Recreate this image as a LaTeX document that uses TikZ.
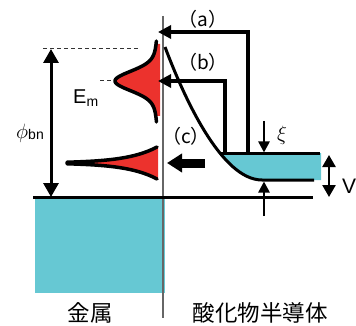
\documentclass[tikz,border=0pt]{standalone}
\usepackage{fontspec}
\setmainfont{Liberation Sans}
\newfontfamily\cjk{Noto Sans CJK JP}
\usetikzlibrary{arrows.meta}
\definecolor{bandcyan}{RGB}{102,200,211}
\definecolor{dosred}{RGB}{236,50,45}
\begin{document}
\begin{tikzpicture}[x=1pt,y=-1pt,
  bold/.style={line width=3pt},
  curveline/.style={line width=3.5pt, line join=round, line cap=round},
  injarrow/.style={line width=4pt, line join=miter, -{Triangle[length=13pt,width=13pt]}},
  thinarrow/.style={line width=2.5pt, -{Triangle[length=11pt,width=11pt]}},
  dblarrow/.style={line width=2.5pt, {Triangle[length=12pt,width=13pt]}-{Triangle[length=12pt,width=13pt]}},
  phiarrow/.style={line width=3pt, {Triangle[length=14pt,width=15pt]}-{Triangle[length=14pt,width=15pt]}},
  guide/.style={line width=1pt, dash pattern=on 4pt off 3pt, black!80},
  lbl/.style={inner sep=0pt, font=\fontsize{20}{20}\selectfont},
  jlbl/.style={inner sep=0pt, font=\cjk\fontsize{22.5}{22.5}\selectfont}]
\useasboundingbox (0,0) rectangle (356,326);

% named points
\coordinate (bandtop) at (165,47);
\coordinate (bandbot) at (262,180);
\coordinate (bandend) at (314,180);
\coordinate (cbtopL) at (221,154);
\coordinate (cbtopR) at (320,154);
\coordinate (efL) at (33,197);
\coordinate (efR) at (313,197);
\coordinate (ifTop) at (163,16);
\coordinate (ifBot) at (163,318);
\coordinate (aStart) at (248,154);
\coordinate (aCorner) at (248,32);
\coordinate (aEnd) at (158,32);
\coordinate (bStart) at (225,154);
\coordinate (bCorner) at (225,81);
\coordinate (bEnd) at (158,81);
\coordinate (cStart) at (205,163);
\coordinate (cEnd) at (167,163);
\coordinate (xiStart) at (264,121);
\coordinate (xiEnd) at (264,152.5);
\coordinate (upStart) at (264,216);
\coordinate (upEnd) at (264,181.5);
\coordinate (vTop) at (329,155);
\coordinate (vBot) at (329,197);
\coordinate (phiTop) at (51,49);
\coordinate (phiBot) at (51,197);

% metal band
\fill[bandcyan] (35,197) rectangle (165,293);
% semiconductor conduction band filling
\begin{scope}
  \clip (150,154) rectangle (321,180);
  \fill[bandcyan] (bandtop) .. controls (185,100) and (222,180) .. (bandbot) -- (330,180) -- (330,40) -- cycle;
\end{scope}

% interface line
\draw[line width=1.2pt, black!60] (ifTop) -- (ifBot);

% Fermi level and band edges
\draw[bold] (efL) -- (efR);
\draw[bold] (bandtop) .. controls (185,100) and (222,180) .. (bandbot) -- (bandend);
\draw[bold] (cbtopL) -- (cbtopR);

% dashed guides
\draw[guide] (43,49) -- (140,49);
\draw[guide] (100,81) -- (133,81);

% upper interface-state distribution
\fill[dosred] plot[domain=44:116, samples=80]
  ({157-42*(0.8*exp(-((\x-81)/13)*((\x-81)/13))+0.2*exp(-((\x-81)/25)*((\x-81)/25)))},\x)
  -- (160,116) -- (160,44) -- cycle;
\draw[curveline] plot[domain=41:122, samples=80]
  ({157-42*(0.8*exp(-((\x-81)/13)*((\x-81)/13))+0.2*exp(-((\x-81)/25)*((\x-81)/25)))},\x);

% lower distribution
\fill[dosred] plot[domain=67:158, samples=50] (\x,{163-16*exp((\x-157)/30)})
  -- plot[domain=158:67, samples=50] (\x,{163+16*exp((\x-157)/30)}) -- cycle;
\draw[curveline] plot[domain=157:67, samples=50] (\x,{163-16*exp((\x-157)/30)})
  -- plot[domain=67:157, samples=50] (\x,{163+16*exp((\x-157)/30)});

% arrows
\draw[injarrow] (aStart) -- (aCorner) -- (aEnd);
\draw[injarrow] (bStart) -- (bCorner) -- (bEnd);
\draw[line width=9pt, -{Triangle[length=15pt,width=18pt]}] (cStart) -- (cEnd);
\draw[thinarrow] (xiStart) -- (xiEnd);
\draw[thinarrow] (upStart) -- (upEnd);
\draw[dblarrow] (vTop) -- (vBot);
\draw[phiarrow] (phiTop) -- (phiBot);

% labels
\node[lbl, font=\cjk\fontsize{19}{19}\selectfont] (la) at (203,19) {（a）};
\node[lbl, font=\cjk\fontsize{19}{19}\selectfont] (lb) at (203,62) {（b）};
\node[lbl, font=\cjk\fontsize{19}{19}\selectfont] (lc) at (186,136) {（c）};
\node[lbl, anchor=base west] (em) at (73,104) {E\raisebox{-3pt}{\fontsize{14}{14}\selectfont m}};
\node[lbl, anchor=base west] (phi) at (16,139) {$\phi$\raisebox{-1pt}{\fontsize{14}{14}\selectfont bn}};
\node[lbl, anchor=base west] (xi) at (277,140) {$\xi$};
\node[lbl, anchor=base west, font=\fontsize{21}{21}\selectfont] (v) at (342,193) {V};
\node[jlbl] (metal) at (90,313) {金属};
\node[jlbl] (semi) at (260,313) {酸化物半導体};
\end{tikzpicture}
\end{document}
